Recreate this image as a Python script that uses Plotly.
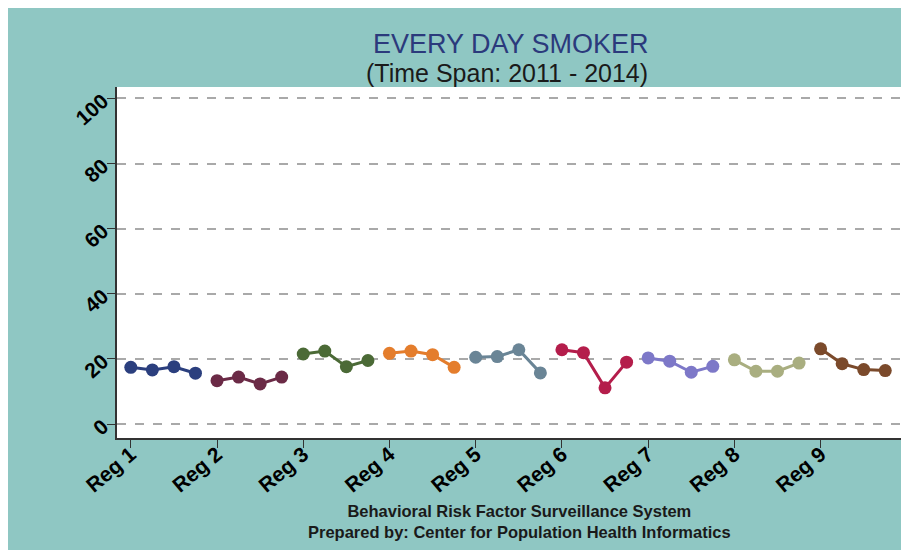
import plotly.graph_objects as go

regions = ["Reg 1", "Reg 2", "Reg 3", "Reg 4", "Reg 5", "Reg 6", "Reg 7", "Reg 8", "Reg 9"]
years = [2011, 2012, 2013, 2014]
reg1 = [17.4, 16.6, 17.6, 15.6]
reg2 = [13.3, 14.4, 12.3, 14.4]
reg3 = [21.5, 22.4, 17.6, 19.5]
reg4 = [21.7, 22.4, 21.3, 17.4]
reg5 = [20.5, 20.7, 22.8, 15.7]
reg6 = [22.8, 21.9, 11.1, 19.0]
reg7 = [20.3, 19.3, 15.9, 17.7]
reg8 = [19.7, 16.2, 16.2, 18.7]
reg9 = [23.1, 18.5, 16.7, 16.4]
series = [reg1, reg2, reg3, reg4, reg5, reg6, reg7, reg8, reg9]
colors = ["#2b3f7e", "#6b2a46", "#4b6a36", "#e47d2c", "#6a8596",
          "#b41d4b", "#7d78c8", "#a9ae80", "#7b4a2b"]
yticks = [0, 20, 40, 60, 80, 100]
title = "EVERY DAY SMOKER"
subtitle = "(Time Span: 2011 - 2014)"
footer1 = "Behavioral Risk Factor Surveillance System"
footer2 = "Prepared by: Center for Population Health Informatics"

fig = go.Figure()
n = len(years)
for i, (name, vals) in enumerate(zip(regions, series)):
    xs = [i * n + j for j in range(n)]
    fig.add_trace(go.Scatter(
        x=xs, y=vals, mode="lines+markers", name=name,
        line=dict(color=colors[i], width=3),
        marker=dict(color=colors[i], size=13),
        showlegend=False,
    ))

bg = "#8fc7c3"
fig.update_layout(
    width=901, height=542,
    paper_bgcolor=bg, plot_bgcolor="white",
    margin=dict(l=109, r=8, t=79, b=112, autoexpand=False),
    font=dict(family="Liberation Sans, Arial, sans-serif", color="black"),
    xaxis=dict(
        range=[-0.64, 35.73],
        tickvals=[i * n for i in range(len(regions))],
        ticktext=regions,
        tickangle=-40,
        tickfont=dict(size=21, weight="bold"),
        ticks="outside", ticklen=8, tickcolor="#333",
        ticklabelstandoff=-14,
        showline=True, linecolor="#333", linewidth=2,
        showgrid=False, zeroline=False, automargin=False,
    ),
    yaxis=dict(
        range=[-4.3, 103.5],
        tickvals=yticks,
        tickangle=-42,
        tickfont=dict(size=21, weight="bold"),
        ticks="outside", ticklen=8, tickcolor="#333",
        showline=True, linecolor="#333", linewidth=2,
        showgrid=True, gridcolor="#a9a9a9", griddash="dash", gridwidth=1.5,
        zeroline=False, automargin=False,
    ),
)
fig.add_annotation(
    text=title, xref="paper", yref="paper", x=0.5026, y=1.1225,
    xanchor="center", yanchor="middle", showarrow=False,
    font=dict(size=27, color="#2b3a7c"),
)
fig.add_annotation(
    text=subtitle, xref="paper", yref="paper", x=0.497, y=1.041,
    xanchor="center", yanchor="middle", showarrow=False,
    font=dict(size=25, color="#1a1a1a"),
)
fig.add_annotation(
    text="<b>" + footer1 + "<br>" + footer2 + "</b>",
    xref="paper", yref="paper", x=0.514, y=-0.239, xanchor="center", yanchor="middle",
    showarrow=False, align="center", font=dict(size=16.5, color="#1a1a1a"),
)
fig.write_html("out.html")
